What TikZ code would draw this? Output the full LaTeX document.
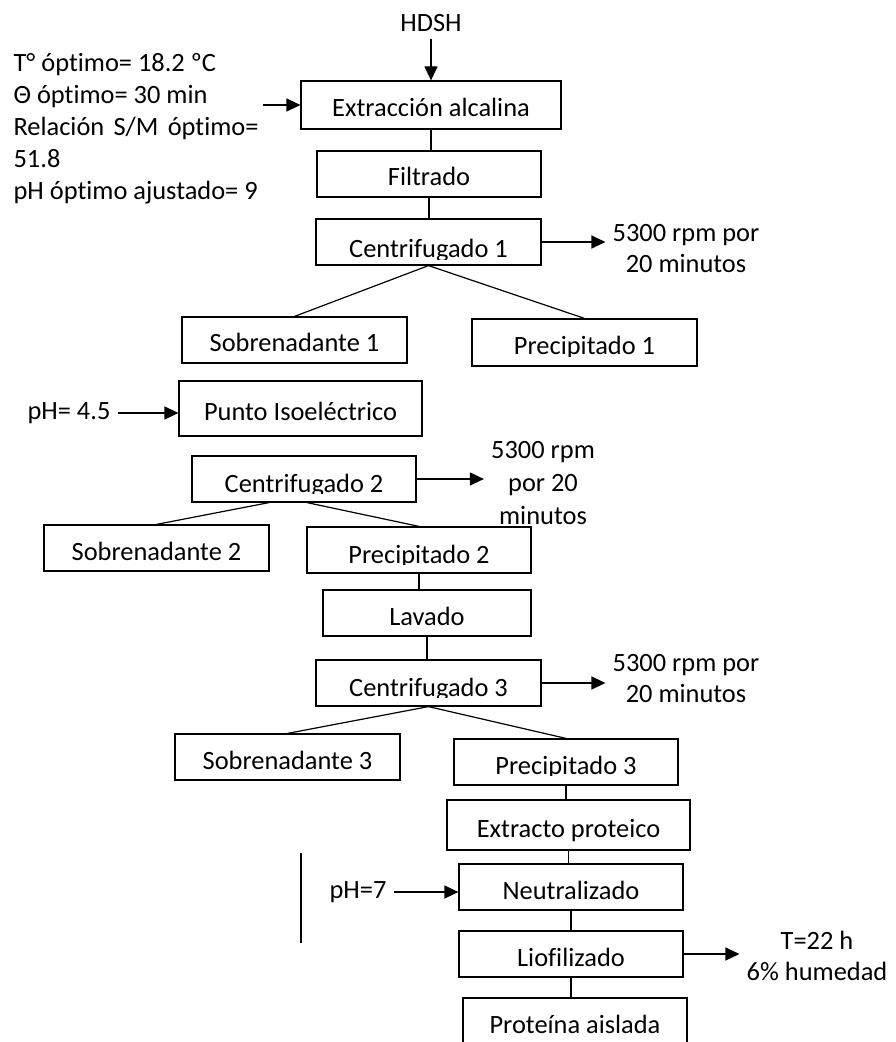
\documentclass[tikz,border=0pt]{standalone}
\usepackage{fontspec}
\setmainfont{Carlito}[Ligatures=NoCommon]
\usetikzlibrary{arrows.meta}

\begin{document}
\begin{tikzpicture}[x=0.5pt,y=-0.5pt,font=\fontsize{13.2}{15.5}\selectfont,line width=0.6pt,
  box/.style={draw, inner sep=0pt, minimum height=23pt, text height=17.5pt, text depth=5.5pt},
  cutbox/.style 2 args={box, path picture={
      \clip ([yshift=#2-0.8pt]path picture bounding box.south west) rectangle (path picture bounding box.north east);
      \node[draw=none, inner sep=0pt, minimum width=0pt, minimum height=0pt, text height=, text depth=, anchor=base]
        at ([yshift=#2]path picture bounding box.south) {#1};}},
  arr/.style={-{Triangle[length=7pt,width=6.5pt]}},
  note/.style={align=center}]
  \fill[white] (0,0) rectangle (895,1042);
  \useasboundingbox (0,0) rectangle (895,1042);
  % inputs
  \node (hdsh) at (431,23) {HDSH};
  \node[anchor=west, inner sep=0pt, align=left, font=\fontsize{13.2}{16}\selectfont] (cond) at (13,129)
    {T° óptimo= 18.2 ºC\\ Θ óptimo= 30 min\\ \makebox[122.5pt][s]{Relación S/M óptimo=}\\ 51.8\\ pH óptimo ajustado= 9};
  % process steps
  \node[box, minimum width=130pt, minimum height=24pt] (ext) at (431,105) {Extracción alcalina};
  \node[box, minimum width=112pt] (fil) at (429,174) {Filtrado};
  \node[cutbox={Centrifugado 1}{3.5pt}, minimum width=112.5pt] (cen1) at (428.5,242) {};
  \node[box, minimum width=112.5pt] (sob1) at (294.5,340) {Sobrenadante 1};
  \node[cutbox={Precipitado 1}{5.5pt}, minimum width=112.5pt, minimum height=23.5pt] (pre1) at (584.5,342.5) {};
  \node[box, minimum width=121.5pt, minimum height=27.5pt] (pun) at (300.5,408.5) {Punto Isoeléctrico};
  \node[cutbox={Centrifugado 2}{5pt}, minimum width=112pt] (cen2) at (304,479) {};
  \node[box, minimum width=112.5pt] (sob2) at (156.5,548) {Sobrenadante 2};
  \node[cutbox={Precipitado 2}{5pt}, minimum width=112pt] (pre2) at (419,550) {};
  \node[box, minimum width=104pt] (lav) at (427,613) {Lavado};
  \node[cutbox={Centrifugado 3}{5pt}, minimum width=112.5pt] (cen3) at (428.5,683) {};
  \node[box, minimum width=112.5pt] (sob3) at (287.5,757) {Sobrenadante 3};
  \node[cutbox={Precipitado 3}{5.5pt}, minimum width=112pt] (pre3) at (566,762) {};
  \node[box, minimum width=121.5pt, minimum height=25pt] (extp) at (568.5,825) {Extracto proteico};
  \node[box, minimum width=112pt] (neu) at (571,887) {Neutralizado};
  \node[box, minimum width=112pt] (lio) at (571,954) {Liofilizado};
  \node[box, minimum width=112pt] (pro) at (575,1021) {Proteína aislada};
  % conditions
  \node[note] (r1) at (686,249) {5300 rpm por\\20 minutos};
  \node[note, font=\fontsize{13.2}{16.5}\selectfont] (r2) at (543,483) {5300 rpm\\por 20\\minutos};
  \node[note] (r3) at (686,679) {5300 rpm por\\20 minutos};
  \node[note] (r4) at (817,956) {T=22 h\\6\% humedad};
  \node (ph1) at (69,413) {pH= 4.5};
  \node (ph2) at (358,892) {pH=7};
  \coordinate (bartop) at (301,853);
  \coordinate (barbot) at (301,943);
  % connectors
  \draw[arr] (hdsh) -- (ext);
  \draw[arr] ([xshift=2pt]cond.east |- ext.west) -- (ext.west);
  \draw (ext.south) -- (ext.south |- fil.north);
  \draw (fil.south) -- (fil.south |- cen1.north);
  \draw[arr] (cen1.east) -- (cen1.east -| r1.west);
  \draw (cen1.south) -- (sob1.north) (cen1.south) -- (pre1.north);
  \draw[arr] (ph1.east) -- (ph1.east -| pun.west);
  \draw[arr] (cen2.east) -- (cen2.east -| r2.west);
  \draw ([xshift=-17.5pt]cen2.south) -- (sob2.north) ([xshift=1.5pt]cen2.south) -- (pre2.north);
  \draw (pre2.south) -- (pre2.south |- lav.north);
  \draw (lav.south) -- (lav.south |- cen3.north);
  \draw[arr] (cen3.east) -- (cen3.east -| r3.west);
  \draw (cen3.south) -- (sob3.north) (cen3.south) -- (pre3.north);
  \draw (pre3.south) -- (pre3.south |- extp.north);
  \draw (extp.south) -- (extp.south |- neu.north);
  \draw[arr] (ph2.east) -- (ph2.east -| neu.west);
  \draw (neu.south) -- (neu.south |- lio.north);
  \draw[arr] (lio.east) -- (lio.east -| r4.west);
  \draw (lio.south) -- (lio.south |- pro.north);
  \draw (bartop) -- (barbot);
\end{tikzpicture}
\end{document}
